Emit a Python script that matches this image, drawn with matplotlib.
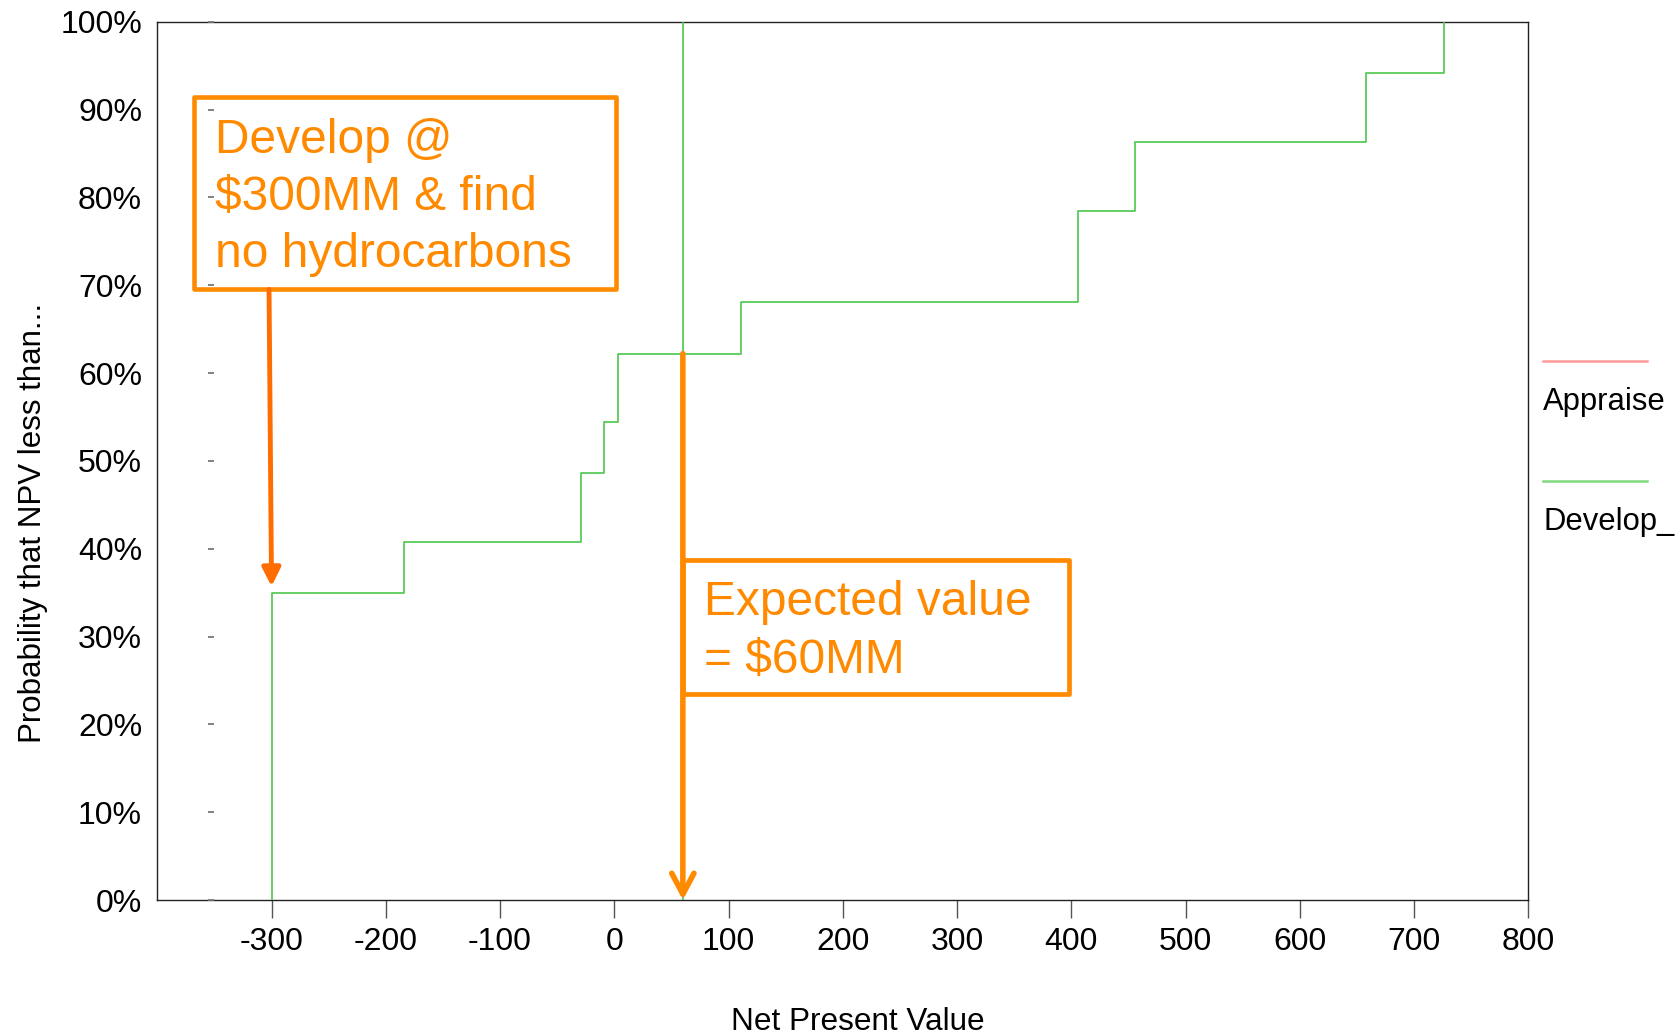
import matplotlib
matplotlib.use("Agg")
import matplotlib.pyplot as plt
from matplotlib.patches import Rectangle, FancyArrowPatch
from matplotlib.lines import Line2D

plt.rcParams['font.family'] = ['Liberation Sans', 'DejaVu Sans']

# Cumulative distribution of NPV for the "develop" decision ($MM, % probability)
npv_steps = [-300, -184, -29, -9, 3, 111, 406, 456, 658, 726]
cum_prob = [35.0, 40.8, 48.6, 54.4, 62.2, 68.1, 78.5, 86.3, 94.2, 100.0]
expected_value = 60

x_ticks = [-300, -200, -100, 0, 100, 200, 300, 400, 500, 600, 700, 800]
y_ticks = [0, 10, 20, 30, 40, 50, 60, 70, 80, 90, 100]
y_tick_labels = [f"{v}%" for v in y_ticks]

series_names = ["Appraise", "Develop_"]
series_colors = ["#FF9A9A", "#7FD97F"]

note_dry_hole = ["Develop @", "$300MM & find", "no hydrocarbons"]
note_ev = ["Expected value", "= $60MM"]

ORANGE = "#FF8A00"
ORANGE_DARK = "#FF6C00"
GREEN = "#4CC64C"
FS = 23

fig = plt.figure(figsize=(16.78, 10.34), dpi=100)
ax = fig.add_axes([0.09374, 0.12959, 0.81705, 0.84942])
ax.set_xlim(-400, 800)
ax.set_ylim(0, 100)

for sp in ax.spines.values():
    sp.set_color("#222222")
    sp.set_linewidth(1.0)

ax.set_xticks(x_ticks)
ax.set_xticklabels([str(v) for v in x_ticks])
ax.set_yticks(y_ticks)
ax.set_yticklabels(y_tick_labels)
ax.tick_params(axis="x", length=13, width=1.0, color="#555555",
               labelsize=FS, pad=6.5)
ax.tick_params(axis="y", length=0, labelsize=FS, pad=11)

# small dash markers for each probability level
ax.hlines(y_ticks, -356, -350, color="#777777", lw=1.3, zorder=4, clip_on=False)

# stepped cumulative curve
ax.plot([npv_steps[0]] + npv_steps, [0] + cum_prob, drawstyle="steps-post",
        color=GREEN, lw=1.2, zorder=3)

# expected value marker line
ax.plot([expected_value, expected_value], [0, 100], color=GREEN, lw=1.2, zorder=3)

# probability at the expected value
p_at_ev = max(p for x, p in zip(npv_steps, cum_prob) if x <= expected_value)

ax.set_xlabel("Net Present Value", fontsize=22.7, va="baseline")
ax.xaxis.set_label_coords(0.5107, -0.148)
ax.set_ylabel("Probability that NPV less than...", fontsize=22.5)
ax.yaxis.label.set_va("center")
ax.yaxis.set_label_coords(-0.091, 0.429)

# annotation box: dry hole outcome
box1 = Rectangle((-368.3, 69.53), 370.1, 21.93, fill=False, ec=ORANGE,
                 lw=3.3, joinstyle="round", zorder=5)
ax.add_patch(box1)
for i, line in enumerate(note_dry_hole):
    ax.annotate(line, xy=(-349.6, 85.02), xytext=(0, -40.8 * i),
                textcoords="offset points", color=ORANGE, fontsize=34.5,
                ha="left", va="baseline", zorder=6)
arrow1 = FancyArrowPatch((-302.2, 69.53), (npv_steps[0], cum_prob[0] + 0.7),
                         arrowstyle="-|>,head_length=11,head_width=5.5",
                         mutation_scale=1, color=ORANGE_DARK, lw=3.5,
                         shrinkA=0, shrinkB=0, zorder=6)
ax.add_patch(arrow1)

# annotation box: expected value
arrow2 = FancyArrowPatch((expected_value, p_at_ev), (expected_value, 0),
                         arrowstyle="->,head_length=15,head_width=8",
                         mutation_scale=1, color=ORANGE, lw=4.0,
                         shrinkA=0, shrinkB=0, zorder=6, capstyle="round")
ax.add_patch(arrow2)
box2 = Rectangle((60.3, 23.45), 337.7, 15.26, fill=False, ec=ORANGE,
                 lw=3.4, joinstyle="round", zorder=5)
ax.add_patch(box2)
for i, line in enumerate(note_ev):
    ax.annotate(line, xy=(78.2, 32.45), xytext=(0, -42 * i),
                textcoords="offset points", color=ORANGE, fontsize=34.5,
                ha="left", va="baseline", zorder=6)

# series key, to the right of the plot
key_line_y = [0.614, 0.477]
key_text_y = [0.558, 0.421]
for name, col, ly, ty in zip(series_names, series_colors, key_line_y, key_text_y):
    ax.add_line(Line2D([1.0109, 1.0868], [ly, ly], transform=ax.transAxes,
                       color=col, lw=1.8, clip_on=False))
    ax.text(1.0109, ty, name, transform=ax.transAxes, fontsize=22.3,
            ha="left", va="baseline", color="black")

fig.savefig("out.png", dpi=100, facecolor="white")
